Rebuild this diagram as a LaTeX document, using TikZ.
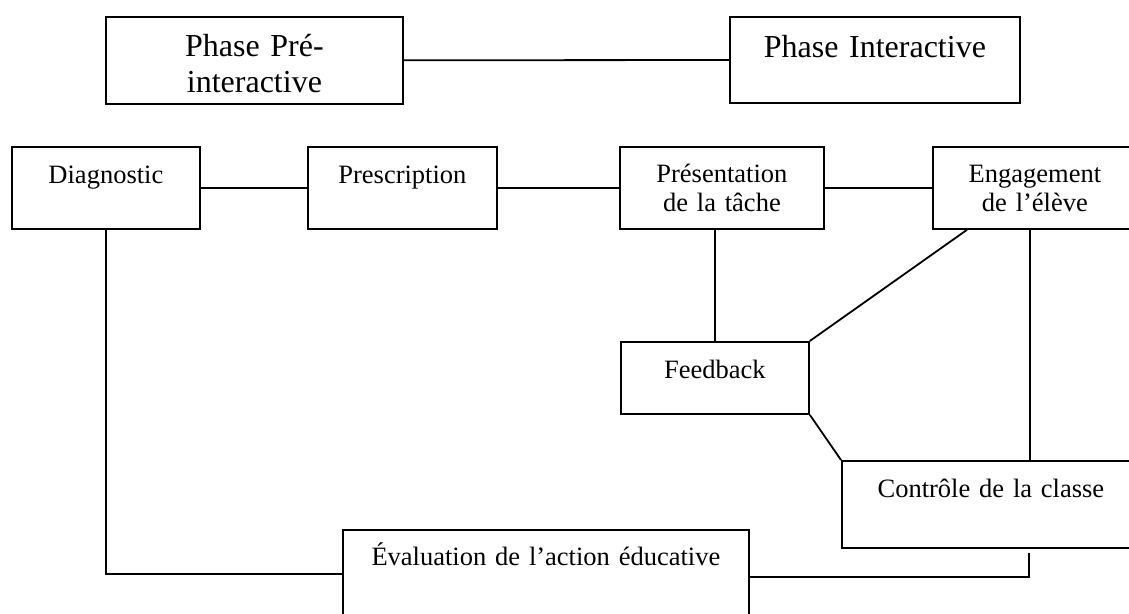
\documentclass[tikz,border=0pt]{standalone}
\usepackage{fontspec}
\setmainfont{Liberation Serif}
\tikzset{phasebox/.style={draw, line width=1.8pt, inner sep=0pt, anchor=north west, align=center,
                          font=\fontsize{32}{36}\selectfont, text height=40pt},
        taskbox/.style={draw, line width=1.8pt, inner sep=0pt, anchor=north west, align=center,
                          font=\fontsize{26.5}{29}\selectfont, text height=37pt},
        link/.style={line width=1.8pt},
        }

\begin{document}
\begin{tikzpicture}[x=1pt, y=-1pt]
    \useasboundingbox (0,0) rectangle (1129,613);

    % phases
    \node[phasebox, text width=297pt, text depth=47pt] (pre) at (105,16) {Phase Pré-\\interactive};
    \node[phasebox, text width=290pt, text depth=45pt, text height=41pt] (inter) at (729,16) {Phase Interactive};

    % activities
    \node[taskbox, text width=188pt, text depth=45pt] (diag) at (11,146) {Diagnostic};
    \node[taskbox, text width=189pt, text depth=45pt] (presc) at (307,146) {Prescription};
    \node[taskbox, text width=204pt, text depth=46pt, text height=36pt] (pres) at (619,146) {Présentation\\de la tâche};
    \node[taskbox, text width=204pt, text depth=46pt, text height=36pt] (eng) at (932,146) {Engagement\\de l’élève};
    \node[taskbox, text width=188pt, text depth=35pt] (feed) at (620,341) {Feedback};
    \node[taskbox, text width=298pt, text depth=50pt] (ctrl) at (841,460) {Contrôle de la classe};
    \node[taskbox, text width=406pt, text depth=52pt, text height=36pt] (eval) at (342,529) {Évaluation de l’action éducative};
    \coordinate (foot) at (1029,553);

    \draw[link] (pre) -- (inter);
    \draw[link] (diag) -- (presc);
    \draw[link] (presc) -- (pres);
    \draw[link] (pres) -- (eng);
    \draw[link] (feed.north) -- (feed.north |- pres.south);
    \draw[link] (feed.north east) -- ([xshift=35pt]eng.south west);
    \draw[link] (feed.south east) -- (ctrl.north west);
    \draw[link] ([xshift=-5pt]eng.south) -- ([xshift=-5pt]eng.south |- ctrl.north);
    \draw[link] (diag.south) |- (eval.west);
    \draw[link] ([yshift=-3pt]eval.east) -| (foot);
\end{tikzpicture}
\end{document}
